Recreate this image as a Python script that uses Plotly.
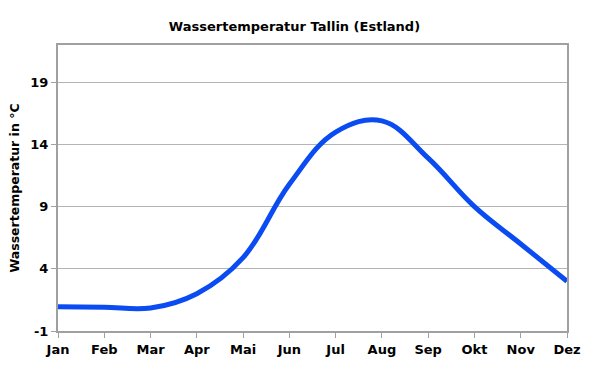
import plotly.graph_objects as go

months = ["Jan", "Feb", "Mar", "Apr", "Mai", "Jun", "Jul", "Aug", "Sep", "Okt", "Nov", "Dez"]
temps = [0.95, 0.92, 0.85, 2.0, 4.9, 10.8, 15.0, 15.9, 12.9, 9.0, 6.0, 3.0]
y_ticks = [-1, 4, 9, 14, 19]

font_family = "DejaVu Sans"

fig = go.Figure()
fig.add_trace(go.Scatter(
    x=list(range(len(months))), y=temps, mode="lines",
    line=dict(color="#0a4cf2", width=5, shape="spline", smoothing=1.1),
    hoverinfo="skip", showlegend=False, cliponaxis=False,
))

fig.update_layout(
    width=589, height=374,
    margin=dict(l=58, r=22, t=45, b=43, autoexpand=False),
    paper_bgcolor="white", plot_bgcolor="white",
    title=dict(text="<b>Wassertemperatur Tallin (Estland)</b>", x=0.5, xanchor="center",
               y=1 - 26/374, yanchor="middle",
               font=dict(family=font_family, size=13, color="black")),
    font=dict(family=font_family, size=12, color="black"),
)
fig.update_xaxes(
    range=[0, 11], tickmode="array", tickvals=list(range(len(months))),
    ticktext=[f"<b>{m}</b>" for m in months], automargin=False,
    showgrid=False, zeroline=False,
    showline=True, linecolor="#a0a0a0", linewidth=2, mirror=True,
    ticks="outside", ticklen=5, tickcolor="#a0a0a0", tickwidth=1,
    tickfont=dict(family=font_family, size=13, color="black"),
)
fig.update_yaxes(
    range=[-1, 22], tickmode="array", tickvals=y_ticks,
    ticktext=[f"<b>{t}</b>" for t in y_ticks], automargin=False,
    showgrid=True, gridcolor="#b4b4b4", gridwidth=1, zeroline=False,
    showline=True, linecolor="#a0a0a0", linewidth=2, mirror=True,
    ticks="outside", ticklen=5, tickcolor="#a0a0a0", tickwidth=1,
    tickfont=dict(family=font_family, size=13, color="black"),
    title=dict(text="<b>Wassertemperatur in °C</b>", standoff=8,
               font=dict(family=font_family, size=12.5, color="black")),
)

fig.write_html("out.html", config={"displayModeBar": False},
               post_script="document.body.style.margin='0';document.body.style.overflow='hidden';")
